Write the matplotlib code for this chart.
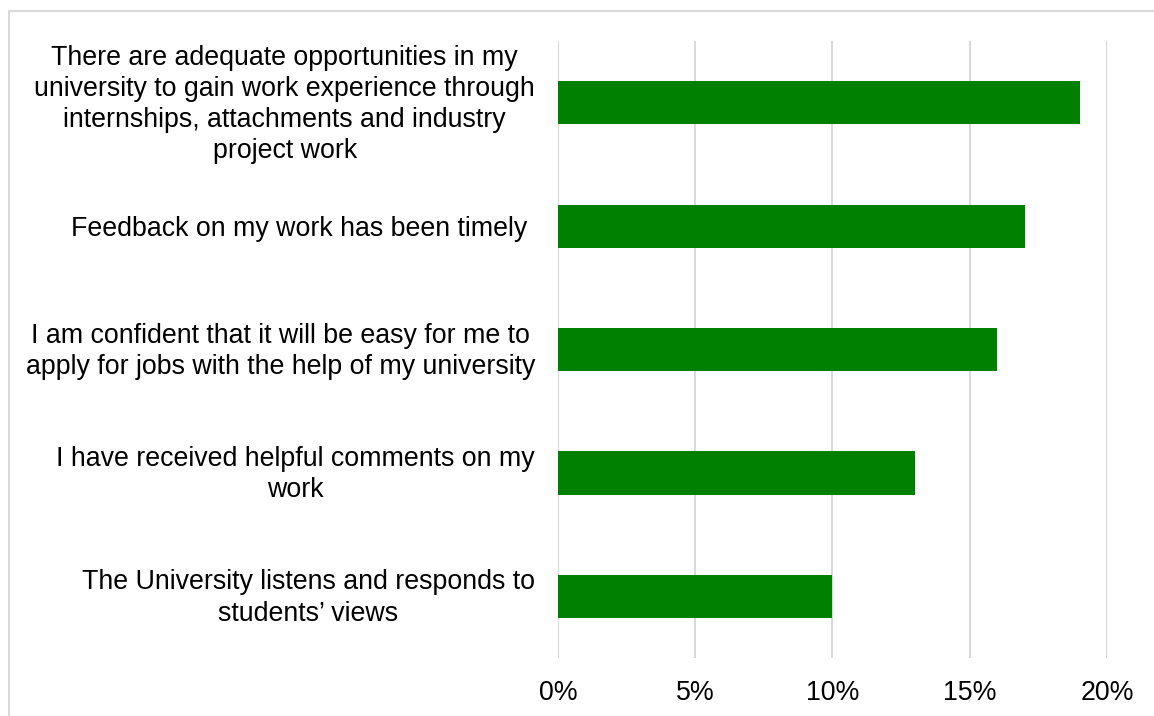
import matplotlib.pyplot as plt
from matplotlib.patches import Rectangle
from matplotlib.ticker import FuncFormatter
from matplotlib.transforms import ScaledTranslation

plt.rcParams["font.family"] = ["Liberation Sans", "DejaVu Sans"]

statements = [
    "There are adequate opportunities in my\nuniversity to gain work experience through\ninternships, attachments and industry\nproject work",
    "Feedback on my work has been timely ",
    "I am confident that it will be easy for me to\napply for jobs with the help of my university",
    "I have received helpful comments on my\nwork",
    "The University listens and responds to\nstudents\u2019 views",
]
shares = [19, 17, 16, 13, 10]
x_ticks = [0, 5, 10, 15, 20]

fig = plt.figure(figsize=(11.54, 7.16), dpi=100)
ax = fig.add_axes((0.4835, 0.081, 0.4758, 0.8617))

ypos = list(range(len(statements)))
ax.barh(ypos, shares, height=0.35, color="#008000", zorder=3)
ax.set_ylim(len(statements) - 0.5, -0.5)
ax.set_xlim(0, 20)

ax.set_xticks(x_ticks)
ax.xaxis.set_major_formatter(FuncFormatter(lambda v, _: f"{v:.0f}%"))
ax.set_yticks(ypos)
ax.set_yticklabels(statements, multialignment="center", fontsize=19.3,
                   linespacing=1.26)
ax.tick_params(axis="x", labelsize=19.3, length=0, pad=16)
ax.tick_params(axis="y", length=0, pad=16.5)

ax.grid(axis="x", color="#d9d9d9", linewidth=1.5, zorder=0)
for side in ax.spines.values():
    side.set_visible(False)

# wrapped labels sit a little low when centred, nudge them up
nudge = ScaledTranslation(0, 0.04, fig.dpi_scale_trans)
for lbl in ax.get_yticklabels():
    if "\n" in lbl.get_text():
        lbl.set_transform(lbl.get_transform() + nudge)

# light frame around the chart area
fig.patches.append(Rectangle((9 / 1154, -0.1), 1.2, 1 - 11 / 716 + 0.1,
                             transform=fig.transFigure, fill=False,
                             edgecolor="#d9d9d9", linewidth=1.5))

fig.savefig("out.png", dpi=100)
